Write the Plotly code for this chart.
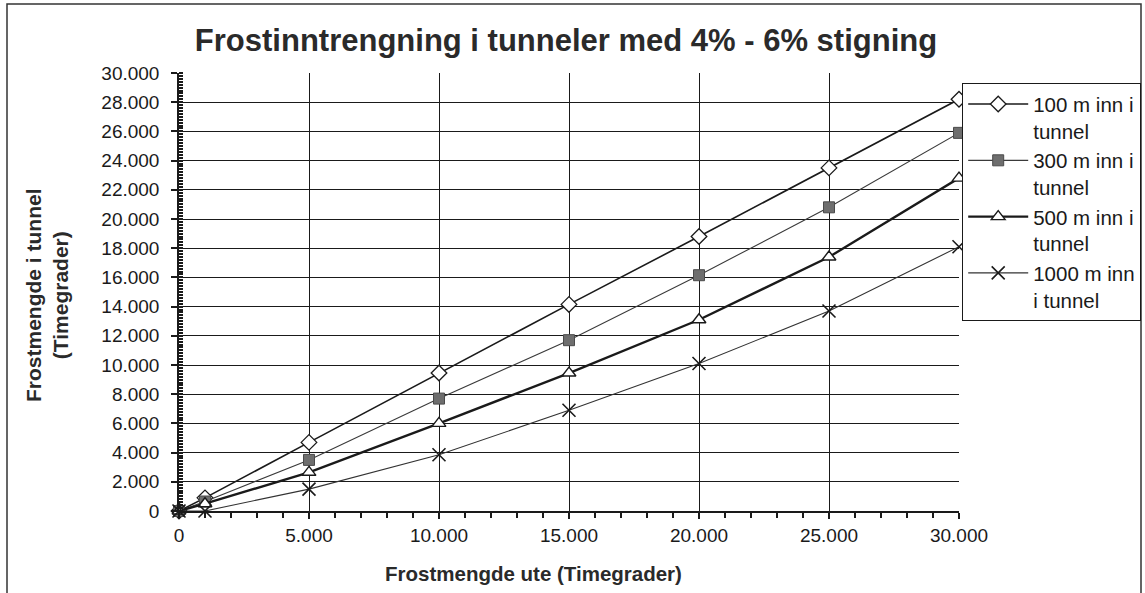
import plotly.graph_objects as go

# Frost quantity outside (degree-hours) and frost quantity at each depth inside the tunnel
frost_outside = [0, 1000, 5000, 10000, 15000, 20000, 25000, 30000]
tunnel_100m = [0, 900, 4700, 9450, 14150, 18800, 23500, 28200]
tunnel_300m = [0, 650, 3500, 7700, 11700, 16150, 20800, 25900]
tunnel_500m = [0, 500, 2650, 6000, 9450, 13100, 17400, 22800]
tunnel_1000m = [0, 0, 1500, 3850, 6900, 10100, 13700, 18100]

series_names = ["100 m inn i<br>tunnel", "300 m inn i<br>tunnel",
                "500 m inn i<br>tunnel", "1000 m inn<br>i tunnel"]

FONT = "Arial, Liberation Sans, Helvetica, sans-serif"
INK = "#1a1a1a"

# plot area in pixels
W, H = 1145, 593
L, R, T, B = 179, 959, 73, 511


def px(x):
    return (x - L) / (R - L)


def py(y):
    return (B - y) / (B - T)


fig = go.Figure()

fig.add_trace(go.Scatter(
    x=frost_outside, y=tunnel_100m, name=series_names[0], mode="lines+markers",
    line=dict(color=INK, width=1.6), cliponaxis=False,
    marker=dict(symbol="diamond", size=12, color="white", line=dict(color=INK, width=1.3)),
))
fig.add_trace(go.Scatter(
    x=frost_outside, y=tunnel_300m, name=series_names[1], mode="lines+markers",
    line=dict(color="#3a3a3a", width=1.1), cliponaxis=False,
    marker=dict(symbol="square", size=11, color="#6e6e6e", line=dict(color="#4a4a4a", width=1)),
))
fig.add_trace(go.Scatter(
    x=frost_outside, y=tunnel_500m, name=series_names[2], mode="lines+markers",
    line=dict(color=INK, width=2.4), cliponaxis=False,
    marker=dict(symbol="triangle-up", size=12, color="white", line=dict(color=INK, width=1.4)),
))
fig.add_trace(go.Scatter(
    x=frost_outside, y=tunnel_1000m, name=series_names[3], mode="lines+markers",
    line=dict(color="#333333", width=1.1), cliponaxis=False,
    marker=dict(symbol="x-thin-open", size=13, color=INK, line=dict(color=INK, width=1.6)),
))

fig.update_layout(
    width=W, height=H,
    margin=dict(l=L, r=W - R, t=T, b=H - B, autoexpand=False),
    paper_bgcolor="white", plot_bgcolor="white",
    separators=",.",
    font=dict(family=FONT, color=INK, size=19),
    title=dict(
        text="<b>Frostinntrengning i tunneler med 4% - 6% stigning</b>",
        font=dict(family=FONT, size=31, color="#2a2a2a"),
        xref="container", yref="container", x=566 / W, y=1 - 40 / H,
        xanchor="center", yanchor="middle",
    ),
    xaxis=dict(
        range=[0, 30000], tickvals=[0, 5000, 10000, 15000, 20000, 25000, 30000],
        tickformat=",d", showgrid=True, gridcolor=INK, gridwidth=1,
        showline=True, linecolor=INK, linewidth=1.5, zeroline=False,
        ticks="outside", ticklen=6, tickcolor=INK, tickwidth=1.5,
        minor=dict(dtick=1000, ticks="outside", ticklen=5, tickcolor=INK, showgrid=False),
        tickfont=dict(size=19),
    ),
    yaxis=dict(
        range=[0, 30000], dtick=2000, tickformat=",d",
        showgrid=True, gridcolor=INK, gridwidth=1,
        showline=True, linecolor=INK, linewidth=1.5, zeroline=False,
        ticks="outside", ticklen=6, tickcolor=INK, tickwidth=1.5,
        ticklabelstandoff=8,
        minor=dict(dtick=200, ticks="inside", ticklen=4, tickcolor=INK, showgrid=False),
        tickfont=dict(size=19),
    ),
    legend=dict(
        x=px(962), y=py(83), xanchor="left", yanchor="top",
        bordercolor=INK, borderwidth=1.2, bgcolor="white",
        font=dict(family=FONT, size=20.5, color=INK),
        itemwidth=60, valign="top", tracegroupgap=0,
    ),
    showlegend=True,
)

# axis titles
fig.add_annotation(
    text="<b>Frostmengde ute (Timegrader)</b>", xref="paper", yref="paper",
    x=px(533), y=py(573), xanchor="center", yanchor="middle", showarrow=False,
    font=dict(family=FONT, size=20.5, color="#2a2a2a"),
)
fig.add_annotation(
    text="<b>Frostmengde i tunnel<br>(Timegrader)</b>", xref="paper", yref="paper",
    x=px(47), y=py(295), xanchor="center", yanchor="middle", showarrow=False,
    textangle=-90, font=dict(family=FONT, size=21, color="#2a2a2a"),
)

# outer chart frame
fig.add_shape(
    type="rect", xref="paper", yref="paper",
    x0=px(7), x1=px(1141), y0=py(620), y1=py(4),
    line=dict(color="#333333", width=1.5), layer="below",
)

fig.write_html("out.html")
